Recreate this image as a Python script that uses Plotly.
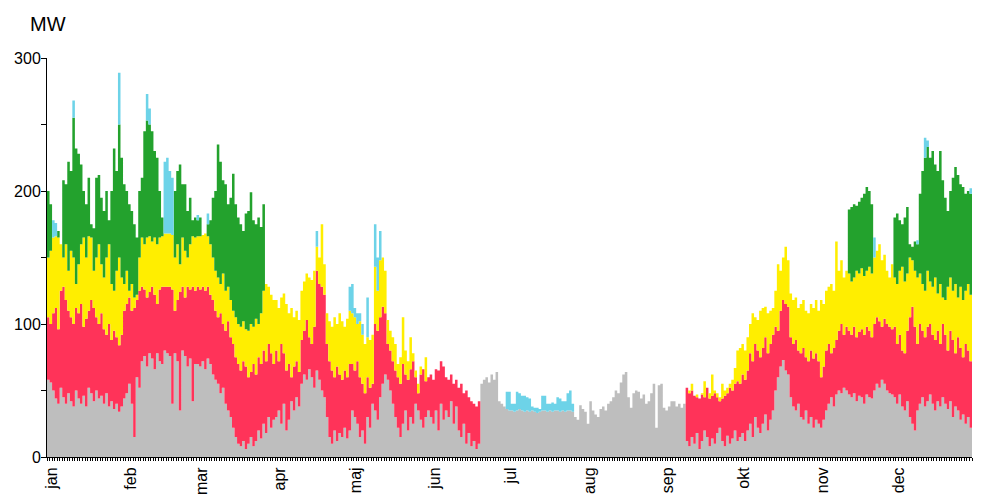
import plotly.graph_objects as go

# ---------------- data (levels in MW, one value per day) ----------------
months = ["jan", "feb", "mar", "apr", "maj", "jun", "jul", "aug", "sep", "okt", "nov", "dec"]
month_start = [0, 31, 59, 90, 120, 151, 181, 212, 243, 273, 304, 334]

N = None
# top of the grey layer (bottom of stack)
gray_top = [
    58, 56, 50, 44, 40, 52, 45, 40, 48, 42, 38, 50, 44, 40, 46, 38, 52, 48, 42, 50, 44, 46, 40, 48, 38, 42, 36, 40, 34, 38, 44,
    48, 55, 40, 15, 60, 52, 72, 76, 68, 78, 74, 66, 78, 72, 70, 80, 78, 76, 40, 78, 72, 35, 80, 76, 68, 74, 42, 70,
    70, 68, 72, 66, 74, 70, 62, 58, 55, 48, 52, 40, 35, 30, 22, 15, 10, 8, 12, 6, 10, 15, 8, 12, 20, 14, 25, 18, 30, 22, 28,
    30, 35, 25, 40, 20, 28, 42, 35, 45, 38, 55, 62, 58, 66, 60, 52, 65, 58, 50, 45, 30, 15, 10, 20, 12, 18, 15, 22, 14, 20,
    35, 30, 25, 15, 20, 10, 30, 22, 40, 35, 28, 45, 55, 62, 58, 50, 40, 30, 22, 15, 25, 35, 20, 30, 25, 40, 35, 28, 22, 30, 35,
    30, 25, 35, 20, 40, 28, 35, 30, 42, 25, 38, 20, 15, 25, 10, 18, 8, 12, 6, 10, 55, 58, 60, 56, 62, 58, 64, 42, 40, 38,
    36, 35, 35, 34, 35, 36, 35, 34, 35, 34, 35, 34, 33, 34, 35, 35, 34, 35, 34, 35, 35, 34, 35, 34, 35, 35, 34, 30, 28, 39, 36,
    34, 25, 42, 35, 32, 30, 36, 38, 35, 40, 42, 45, 50, 48, 56, 62, 64, 45, 37, 48, 50, 49, 44, 47, 40, 42, 48, 55, 22, 54, 55,
    37, 35, 38, 42, 42, 38, 40, 37, 40, 12, 8, 15, 10, 18, 6, 12, 20, 15, 8, 14, 10, 18, 22, 12, 8, 16, 10, 14, 20, 12,
    15, 18, 12, 20, 25, 15, 30, 22, 18, 25, 32, 20, 28, 35, 50, 60, 68, 73, 65, 62, 45, 38, 35, 40, 30, 28, 35, 25, 30, 22, 28,
    25, 22, 28, 35, 40, 45, 38, 47, 50, 48, 52, 50, 47, 45, 48, 42, 46, 45, 40, 47, 45, 44, 50, 55, 52, 58, 55, 50, 48, 47,
    45, 40, 47, 38, 35, 42, 30, 25, 20, 35, 40, 45, 38, 42, 47, 40, 35, 42, 38, 45, 40, 36, 42, 30, 38, 35, 28, 32, 25, 30, 22,
]
# top of the red layer (None = no red that day)
red_top = [
    105, 100, 108, 112, 96, 125, 128, 118, 110, 105, 100, 112, 108, 115, 98, 104, 110, 118, 112, 105, 100, 108, 96, 92, 100, 88, 95, 90, 84, 92, 110,
    115, 120, 110, 112, 118, 125, 128, 126, 120, 124, 128, 122, 115, 126, 128, 128, 128, 128, 126, 110, 118, 124, 128, 120, 128, 126, 128, 125,
    128, 126, 128, 125, 128, 122, 118, 110, 105, 108, 100, 95, 102, 90, 85, 75, 70, 65, 72, 68, 60, 64, 70, 62, 75, 70, 80, 72, 85, 78, 70,
    80, 72, 85, 78, 65, 70, 60, 68, 72, 64, 88, 95, 103, 90, 85, 98, 140, 130, 128, 122, 85, 72, 65, 60, 68, 62, 58, 65, 60, 70,
    70, 65, 72, 60, 55, 48, 60, 52, 55, 100, 95, 105, 113, 108, 85, 80, 72, 65, 60, 55, 70, 62, 58, 66, 72, 60, 48, 62, 66, 57, 60,
    62, 58, 66, 65, 72, 68, 60, 58, 62, 55, 58, 52, 55, 48, 50, 45, 42, 40, 38, 42, N, N, N, N, N, N, N, N, N, N,
    N, N, N, N, N, N, N, N, N, N, N, N, N, N, N, N, N, N, N, N, N, N, N, N, N, N, N, N, N, N, N,
    N, N, N, N, N, N, N, N, N, N, N, N, N, N, N, N, N, N, N, N, N, N, N, N, N, N, N, N, N, N, N,
    N, N, N, N, N, N, N, N, N, 52, 48, 50, 46, 45, 44, 47, 45, 52, 44, 46, 48, 45, 42, 44, 46, 48, 52, 50, 55, 57,
    55, 62, 58, 65, 78, 72, 85, 80, 75, 82, 90, 78, 85, 92, 98, 95, 110, 118, 115, 113, 90, 85, 88, 80, 78, 82, 75, 72, 80, 74, 78,
    72, 60, 68, 80, 85, 78, 82, 88, 95, 100, 92, 98, 95, 92, 98, 90, 94, 96, 92, 98, 95, 90, 100, 105, 102, 98, 104, 100, 98, 96,
    98, 85, 92, 80, 78, 95, 105, 113, 98, 85, 100, 95, 90, 98, 100, 92, 88, 95, 85, 100, 92, 80, 95, 88, 78, 90, 82, 75, 85, 80, 72,
]
# top of the yellow layer
yellow_top = [
    150, 155, 165, 166, 165, 160, 150, 160, 140, 155, 150, 130, 145, 160, 165, 150, 166, 165, 140, 150, 160, 145, 135, 150, 160, 130, 125, 140, 150, 135, 130,
    140, 125, 130, 120, 122, 150, 165, 160, 165, 166, 162, 165, 160, 165, 166, 168, 168, 168, 167, 150, 160, 145, 165, 155, 150, 160, 166, 165,
    166, 166, 167, 168, 166, 160, 150, 140, 135, 130, 138, 125, 128, 118, 110, 105, 100, 98, 102, 96, 95, 100, 98, 104, 100, 108, 125, 130, 128, 122, 118,
    118, 112, 120, 123, 115, 108, 112, 105, 110, 103, 125, 132, 138, 135, 133, 140, 158, 150, 175, 145, 108, 102, 98, 105, 100, 108, 102, 98, 104, 110,
    108, 105, 100, 102, 92, 85, 90, 88, 92, 143, 125, 148, 150, 140, 103, 95, 90, 85, 70, 75, 105, 80, 72, 90, 78, 65, 55, 68, 66, 75, 60,
    N, N, N, N, N, N, N, N, N, N, N, N, N, N, N, N, N, N, N, N, N, N, N, N, N, N, N, N, N, N,
    N, N, N, N, N, N, N, N, N, N, N, N, N, N, N, N, N, N, N, N, N, N, N, N, N, N, N, N, N, N, N,
    N, N, N, N, N, N, N, N, N, N, N, N, N, N, N, N, N, N, N, N, N, N, N, N, N, N, N, N, N, N, N,
    N, N, N, N, N, N, N, N, N, 52, 50, 55, 46, 47, 44, 48, 57, 52, 48, 62, 50, 48, 45, 55, 50, 52, 55, 58, 67, 80,
    82, 85, 80, 90, 100, 108, 105, 103, 110, 112, 113, 108, 110, 112, 125, 145, 140, 150, 158, 148, 123, 118, 120, 112, 115, 118, 110, 108, 115, 112, 118,
    110, 118, 115, 125, 128, 130, 125, 162, 140, 148, 135, 140, 138, 132, 135, 140, 138, 142, 136, 140, 143, 138, 150, 155, 160, 148, 152, 140, 135, 145,
    135, 130, 140, 143, 132, 138, 150, 148, 140, 135, 138, 130, 125, 140, 132, 128, 135, 123, 130, 120, 118, 128, 135, 125, 130, 120, 128, 118, 125, 130, 122,
]
# top of the green layer
green_top = [
    200, 190, N, N, 170, N, 208, 205, 222, 215, 255, 232, 228, 220, 200, 190, 210, 175, 172, 210, 212, 195, 185, 200, 178, 200, 232, 215, 250, 225, 205,
    200, 190, 185, 175, 165, 200, 210, 245, 253, 250, 245, 230, 225, 200, 180, N, N, N, N, 200, 215, 220, 205, 205, 185, 195, 178, 180,
    178, 180, N, N, 175, 178, 195, 200, 235, 222, 208, 205, 190, 195, 213, 190, 180, 175, 170, 183, 185, 199, 178, 175, 180, 173, 190, N, N, N, N,
] + [N] * (304 - 90) + [
    N, N, N, N, N, N, N, N, N, N, N, N, 186, 188, 190, 189, 192, 195, 198, 203, 200, 190, N, N, N, N, N, N, N, N,
    180, 183, 178, 175, 180, 188, 160, 158, 162, 160, 198, 215, 225, 233, 225, 230, 220, 215, 230, 208, 195, 185, 200, 210, 218, 212, 205, 203, 198, 200, 198,
]
# top of the light-blue layer: isolated days
cyan_top = {2: 178, 3: 176, 10: 268, 28: 289, 39: 273, 40: 262, 46: 222, 47: 225, 48: 215, 49: 210,
            59: 182, 63: 183, 106: 170, 119: 128, 120: 130, 121: 112, 122: 108, 123: 108, 124: 100,
            126: 120, 129: 175, 130: 150, 131: 170, 326: 165, 343: 163, 346: 240, 347: 238, 364: 202}
# light-blue band in July (days 181-207)
cyan_july_start = 181
cyan_july = [49, 49, 40, 40, 49, 48, 46, 46, 45, 44, 38, 37, 37, 36, 46, 46, 40, 40, 41, 40, 45, 44, 42, 42, 48, 50, 40]

colors = ["#BEBEBE", "#FF3359", "#FFEE00", "#23A22D", "#6DD3E8"]
names = ["grå", "rød", "gul", "grøn", "blå"]

# ---------------- build stack ----------------
def carry(top, base):
    return [b if t is None else max(t, b) for t, b in zip(top, base)]

g = list(gray_top)
r = carry(red_top, g)
yl = carry(yellow_top, r)
gr = carry(green_top, yl)
c = list(gr)
for d, v in cyan_top.items():
    c[d] = max(v, gr[d])
for i, v in enumerate(cyan_july):
    d = cyan_july_start + i
    c[d] = max(v, gr[d])

tops = [g, r, yl, gr, c]
layers = [g] + [[a - b for a, b in zip(tops[k], tops[k - 1])] for k in range(1, 5)]

x = list(range(366))
fig = go.Figure()
for vals, col, nm in zip(layers, colors, names):
    fig.add_trace(go.Scatter(
        x=x, y=vals + [vals[-1]], name=nm, stackgroup="s", mode="lines",
        line=dict(width=0, shape="hv", color=col), fillcolor=col, hoverinfo="skip",
    ))

# page has an 8px body margin: figure is 992x492 placed at (8, 8)
fig.update_layout(
    width=992, height=492, autosize=False,
    margin=dict(l=39, r=28, t=50, b=43, autoexpand=False),
    paper_bgcolor="white", plot_bgcolor="white",
    showlegend=False,
    font=dict(family="Liberation Sans, Arial, sans-serif", color="black"),
)
fig.update_xaxes(
    range=[0, 365], showgrid=False, zeroline=False, automargin=False,
    showline=True, linecolor="black", linewidth=1,
    tickmode="array", tickvals=[m + 2 for m in month_start], ticktext=months,
    tickangle=-90, ticks="outside", ticklen=3, tickcolor="black",
    tickfont=dict(size=16),
    minor=dict(tickmode="array", tickvals=list(range(366)), ticks="outside", ticklen=3, tickcolor="black"),
)
fig.update_yaxes(
    range=[0, 300], showgrid=False, zeroline=False, automargin=False,
    showline=True, linecolor="black", linewidth=1,
    tickmode="array", tickvals=[0, 100, 200, 300],
    ticks="outside", ticklen=5, tickcolor="black", ticklabelstandoff=-3,
    tickfont=dict(size=16),
    minor=dict(tickmode="array", tickvals=[50, 150, 250], ticks="outside", ticklen=5, tickcolor="black"),
)
fig.add_annotation(
    text="MW", xref="paper", yref="paper", x=-0.0205, y=1.084,
    xanchor="left", yanchor="middle", showarrow=False, font=dict(size=20),
)
fig.write_html("out.html")
